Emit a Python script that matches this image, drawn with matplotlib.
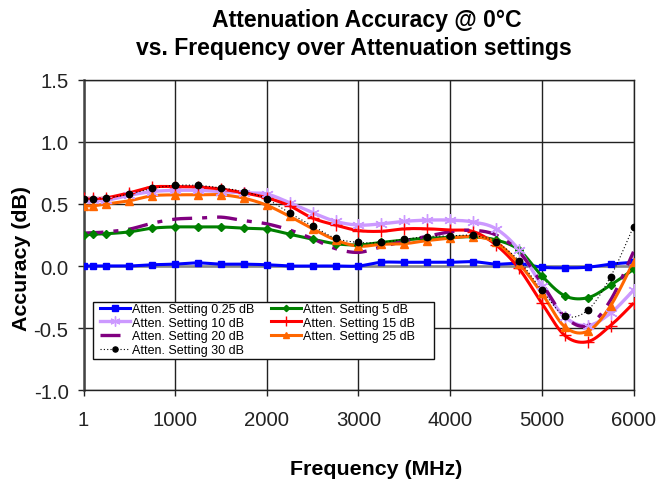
import numpy as np
import matplotlib
matplotlib.use("Agg")
import matplotlib.pyplot as plt
from matplotlib.lines import Line2D
from matplotlib.patches import Rectangle

plt.rcParams['font.family'] = ['Liberation Sans', 'DejaVu Sans']

freq = [1, 100, 250, 500, 750, 1000, 1250, 1500, 1750, 2000, 2250, 2500, 2750,
        3000, 3250, 3500, 3750, 4000, 4250, 4500, 4750, 5000, 5250, 5500, 5750, 6000]

att_025 = [0.0, 0.0, 0.0, 0.0, 0.01, 0.015, 0.025, 0.015, 0.015, 0.01, 0.0, 0.0, 0.0,
           0.0, 0.03, 0.03, 0.03, 0.03, 0.035, 0.015, 0.02, -0.01, -0.015, -0.01, 0.015, 0.03]
att_5 = [0.25, 0.256, 0.26, 0.275, 0.305, 0.315, 0.315, 0.315, 0.305, 0.297, 0.256, 0.216, 0.18,
         0.17, 0.19, 0.21, 0.224, 0.23, 0.235, 0.21, 0.13, -0.08, -0.24, -0.256, -0.154, -0.027]
att_10 = [0.53, 0.53, 0.53, 0.57, 0.60, 0.61, 0.61, 0.60, 0.59, 0.58, 0.51, 0.43, 0.36,
          0.33, 0.34, 0.36, 0.37, 0.37, 0.355, 0.30, 0.13, -0.16, -0.41, -0.48, -0.38, -0.195]
att_15 = [0.547, 0.545, 0.55, 0.59, 0.637, 0.64, 0.637, 0.62, 0.59, 0.55, 0.485, 0.386, 0.33,
          0.286, 0.28, 0.30, 0.30, 0.29, 0.278, 0.17, -0.02, -0.30, -0.56, -0.61, -0.48, -0.30]
att_20 = [0.265, 0.268, 0.275, 0.297, 0.345, 0.378, 0.386, 0.394, 0.366, 0.34, 0.29, 0.22, 0.14,
          0.11, 0.155, 0.20, 0.24, 0.275, 0.288, 0.25, 0.115, -0.14, -0.41, -0.48, -0.275, 0.115]
att_25 = [0.485, 0.485, 0.50, 0.526, 0.566, 0.574, 0.574, 0.574, 0.547, 0.49, 0.40, 0.30, 0.21,
          0.16, 0.175, 0.18, 0.205, 0.224, 0.237, 0.19, 0.02, -0.22, -0.49, -0.526, -0.32, 0.035]
att_30 = [0.54, 0.54, 0.547, 0.58, 0.625, 0.65, 0.65, 0.63, 0.60, 0.54, 0.426, 0.324, 0.224,
          0.19, 0.19, 0.216, 0.237, 0.243, 0.246, 0.194, 0.043, -0.194, -0.40, -0.356, -0.086, 0.318]

labels = ["Atten. Setting 0.25 dB", "Atten. Setting 5 dB", "Atten. Setting 10 dB",
          "Atten. Setting 15 dB", "Atten. Setting 20 dB", "Atten. Setting 25 dB",
          "Atten. Setting 30 dB"]

ASTER = (6, 2, 0)
styles = [
    dict(color='#0000FF', lw=2.2, ls='-', marker='s', ms=5.0, mew=1.0),
    dict(color='#008000', lw=2.2, ls='-', marker='D', ms=4.0, mew=1.0),
    dict(color='#CC99FF', lw=2.4, ls='-', marker=ASTER, ms=9.0, mew=1.0),
    dict(color='#FF0000', lw=2.2, ls='-', marker='+', ms=9.0, mew=1.0),
    dict(color='#800080', lw=2.4, ls=(0, (6, 3, 1.5, 3)), marker=None, ms=0, mew=1.0),
    dict(color='#FF6600', lw=2.2, ls='-', marker='^', ms=6.0, mew=1.0),
    dict(color='#000000', lw=0.8, ls=(0, (1, 2)), marker='o', ms=4.6, mew=1.0),
]
series = [att_025, att_5, att_10, att_15, att_20, att_25, att_30]


def bezier_points(x, y, steps=20):
    x = np.asarray(x, float)
    y = np.asarray(y, float)
    n = len(x)
    out_x, out_y = [x[0]], [y[0]]
    t = np.linspace(0, 1, steps + 1)[1:]
    for i in range(n - 1):
        p0 = np.array([x[max(i - 1, 0)], y[max(i - 1, 0)]])
        p1 = np.array([x[i], y[i]])
        p2 = np.array([x[i + 1], y[i + 1]])
        p3 = np.array([x[min(i + 2, n - 1)], y[min(i + 2, n - 1)]])
        c1 = p1 + (p2 - p0) / 6.0
        c2 = p2 - (p3 - p1) / 6.0
        b = ((1 - t) ** 3)[:, None] * p1 + (3 * (1 - t) ** 2 * t)[:, None] * c1 + \
            (3 * (1 - t) * t ** 2)[:, None] * c2 + (t ** 3)[:, None] * p2
        out_x += list(b[:, 0])
        out_y += list(b[:, 1])
    return np.array(out_x), np.array(out_y)


fig = plt.figure(figsize=(6.58, 4.85), dpi=100)
ax = fig.add_axes([0.1269, 0.1938, 0.8359, 0.6392])

ax.set_xlim(1, 6000)
ax.set_ylim(-1.0, 1.5)
ax.set_xticks([1, 1000, 2000, 3000, 4000, 5000, 6000])
ax.set_xticklabels(['1', '1000', '2000', '3000', '4000', '5000', '6000'])
ax.set_yticks([-1.0, -0.5, 0.0, 0.5, 1.0, 1.5])
ax.set_yticklabels(['-1.0', '-0.5', '0.0', '0.5', '1.0', '1.5'])
ax.grid(True, color='#222222', lw=1.0)
ax.set_axisbelow(True)
ax.axhline(0, color='#888888', lw=1.8, zorder=1)

for sp in ['top', 'right', 'bottom']:
    ax.spines[sp].set_color('#222222')
    ax.spines[sp].set_linewidth(1.0)
ax.spines['left'].set_color('#444444')
ax.spines['left'].set_linewidth(1.8)

ax.tick_params(axis='both', direction='out', length=4.3, width=1, colors='#222222',
               labelsize=14.7, labelcolor='#222222')
ax.tick_params(axis='y', pad=6.5)
ax.tick_params(axis='x', pad=10)

handles = []
for y, st in zip(series, styles):
    sx, sy = bezier_points(freq, y)
    ax.plot(sx, sy, color=st['color'], lw=st['lw'], ls=st['ls'], zorder=3,
            solid_capstyle='butt')
    mk = st['marker']
    if mk is not None:
        ax.plot(freq, y, ls='none', marker=mk, ms=st['ms'], mfc=st['color'], mec=st['color'],
                mew=st['mew'], zorder=4)
        h = Line2D([], [], color=st['color'], lw=st['lw'], ls=st['ls'], marker=mk,
                   ms=st['ms'] * 0.8, mfc=st['color'], mec=st['color'], mew=st['mew'])
    else:
        h = Line2D([], [], color=st['color'], lw=st['lw'], ls=st['ls'])
    handles.append(h)

frame = Rectangle((0.0173, 0.100), 0.6197, 0.184, transform=ax.transAxes,
                  facecolor='white', edgecolor='#111111', lw=1.0, zorder=9)
ax.add_patch(frame)

order = [0, 2, 4, 6, 1, 3, 5]
leg = ax.legend([handles[i] for i in order], [labels[i] for i in order],
                loc='upper left', bbox_to_anchor=(0.030, 0.281),
                ncol=2, fontsize=9.0, frameon=False,
                borderpad=0.0, labelspacing=0.14, handlelength=2.4,
                handletextpad=0.12, columnspacing=1.4, borderaxespad=0)
leg.set_zorder(10)

fig.text(0.558, 0.958, "Attenuation Accuracy @ 0°C", ha='center', va='center',
         fontsize=16.6, fontweight='bold')
fig.text(0.538, 0.901, "vs. Frequency over Attenuation settings", ha='center', va='center',
         fontsize=16.6, fontweight='bold')
fig.text(0.572, 0.031, "Frequency (MHz)", ha='center', va='center',
         fontsize=15.4, fontweight='bold')
fig.text(0.033, 0.468, "Accuracy (dB)", ha='center', va='center', rotation=90,
         fontsize=15.4, fontweight='bold')

fig.savefig("out.png", dpi=100)
